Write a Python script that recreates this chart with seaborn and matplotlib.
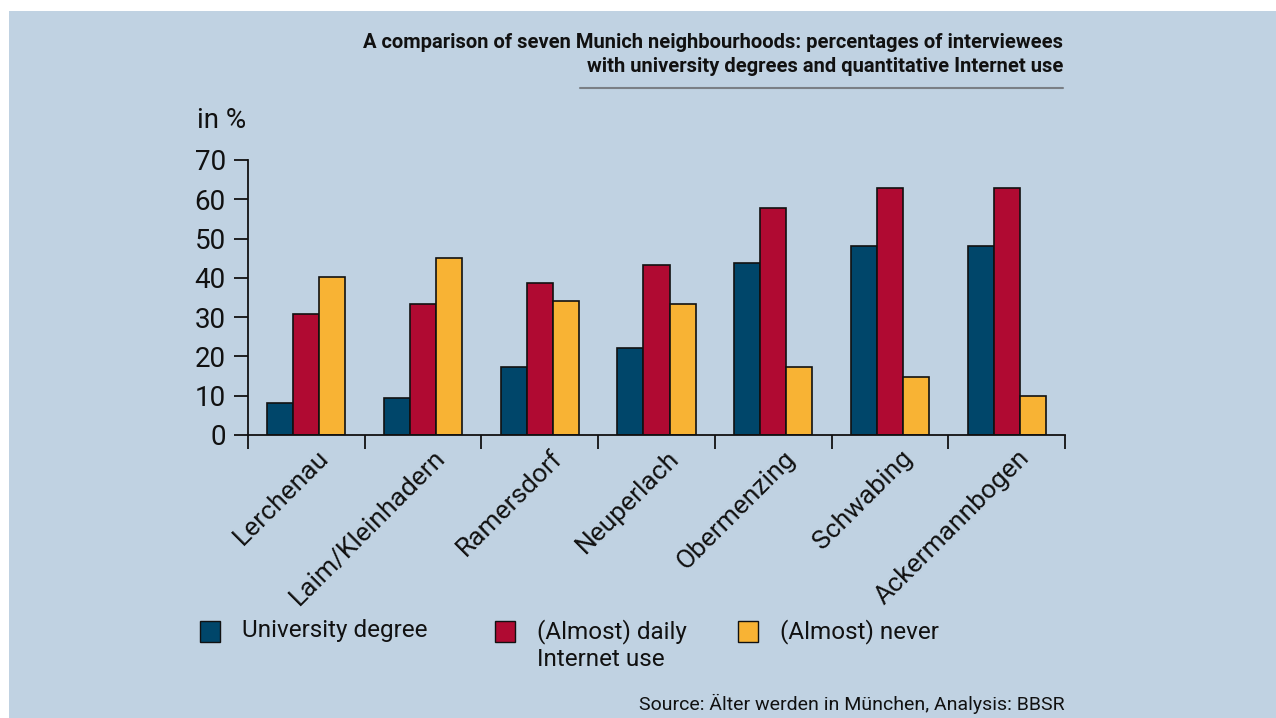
import numpy as np
import pandas as pd
import matplotlib
matplotlib.use("Agg")
import matplotlib.pyplot as plt
import matplotlib.transforms as mtransforms
from matplotlib.patches import Rectangle
import seaborn as sns

# data
neighbourhoods = ["Lerchenau", "Laim/Kleinhadern", "Ramersdorf", "Neuperlach",
                  "Obermenzing", "Schwabing", "Ackermannbogen"]
university_degree = [8.1, 9.3, 17.3, 22.2, 43.8, 48.2, 48.2]
daily_internet = [30.9, 33.3, 38.8, 43.2, 57.9, 62.8, 62.8]
never_internet = [40.1, 45.0, 34.0, 33.3, 17.2, 14.8, 9.9]
series_names = ["University degree", "(Almost) daily\nInternet use", "(Almost) never"]
series_colors = ["#00466a", "#b00a32", "#f8b334"]

df = pd.DataFrame({
    "area": neighbourhoods * 3,
    "value": university_degree + daily_internet + never_internet,
    "series": np.repeat(series_names, len(neighbourhoods)),
})

sns.set_style("ticks")
font = ["Roboto", "DejaVu Sans"]
plt.rcParams["font.family"] = font
plt.rcParams["text.color"] = "#111111"
plt.rcParams["xtick.color"] = "#111111"
plt.rcParams["ytick.color"] = "#111111"

bg = "#c0d2e2"
fig = plt.figure(figsize=(12.76, 7.18), dpi=100)
fig.patch.set_facecolor("white")
fig.add_artist(Rectangle((9 / 1276, 0), 1 - 9 / 1276, 1 - 11 / 718,
                         transform=fig.transFigure, facecolor=bg,
                         edgecolor="none", zorder=-10))

ax = fig.add_axes([248 / 1276, 1 - 435 / 718, (1065 - 248) / 1276, 275 / 718])
ax.set_facecolor("none")

sns.barplot(data=df, x="area", y="value", hue="series", palette=series_colors,
            hue_order=series_names, order=neighbourhoods, width=0.67,
            edgecolor="#111111", linewidth=1.2, saturation=1, ax=ax,
            legend=False)

ax.set_xlim(-0.5, len(neighbourhoods) - 0.5)
ax.set_ylim(0, 70)
ax.set_yticks(range(0, 71, 10))
ax.set_xticks(np.arange(-0.5, len(neighbourhoods) + 0.5, 1))
ax.set_xticklabels([])
ax.tick_params(axis="x", direction="out", length=10, width=1.3)
ax.tick_params(axis="y", direction="out", length=10, width=1.3,
               labelsize=20, pad=6)
for s in ["top", "right"]:
    ax.spines[s].set_visible(False)
for s in ["left", "bottom"]:
    ax.spines[s].set_linewidth(1.3)
    ax.spines[s].set_color("#111111")
ax.set_xlabel("")
ax.set_ylabel("")

# rotated category labels
offset = mtransforms.ScaledTranslation(10 / 100, -11 / 100, fig.dpi_scale_trans)
for i, name in enumerate(neighbourhoods):
    ax.text(i, 0, name, rotation=45, ha="right", va="top", rotation_mode="anchor",
            fontsize=19, transform=ax.get_xaxis_transform() + offset)

fig.text(222 / 1276, 1 - 120 / 718, "in %", fontsize=20, ha="center", va="center")

# title block
fig.text(1063 / 1276, 1 - 42 / 718, "A comparison of seven Munich neighbourhoods: percentages of interviewees",
         fontsize=14.5, fontweight="bold", ha="right", va="center")
fig.text(1063 / 1276, 1 - 67 / 718, "with university degrees and quantitative Internet use",
         fontsize=14.5, fontweight="bold", ha="right", va="center")
fig.add_artist(plt.Line2D([580 / 1276, 1063 / 1276], [1 - 88 / 718] * 2,
                          transform=fig.transFigure, color="#7a7f85", lw=1.5))

# legend
legend_x = [200, 495, 738]
for x0, name, col in zip(legend_x, series_names, series_colors):
    fig.add_artist(Rectangle((x0 / 1276, 1 - 642 / 718), 20 / 1276, 21 / 718,
                             transform=fig.transFigure, facecolor=col,
                             edgecolor="#111111", lw=1))
    fig.text((x0 + 42) / 1276, 1 - 619 / 718, name, fontsize=17.5, ha="left",
             va="top", linespacing=1.25)

fig.text(1065 / 1276, 1 - 704 / 718, "Source: Älter werden in München, Analysis: BBSR",
         fontsize=14, ha="right", va="center")

fig.savefig("out.png", dpi=100, facecolor=fig.get_facecolor())
